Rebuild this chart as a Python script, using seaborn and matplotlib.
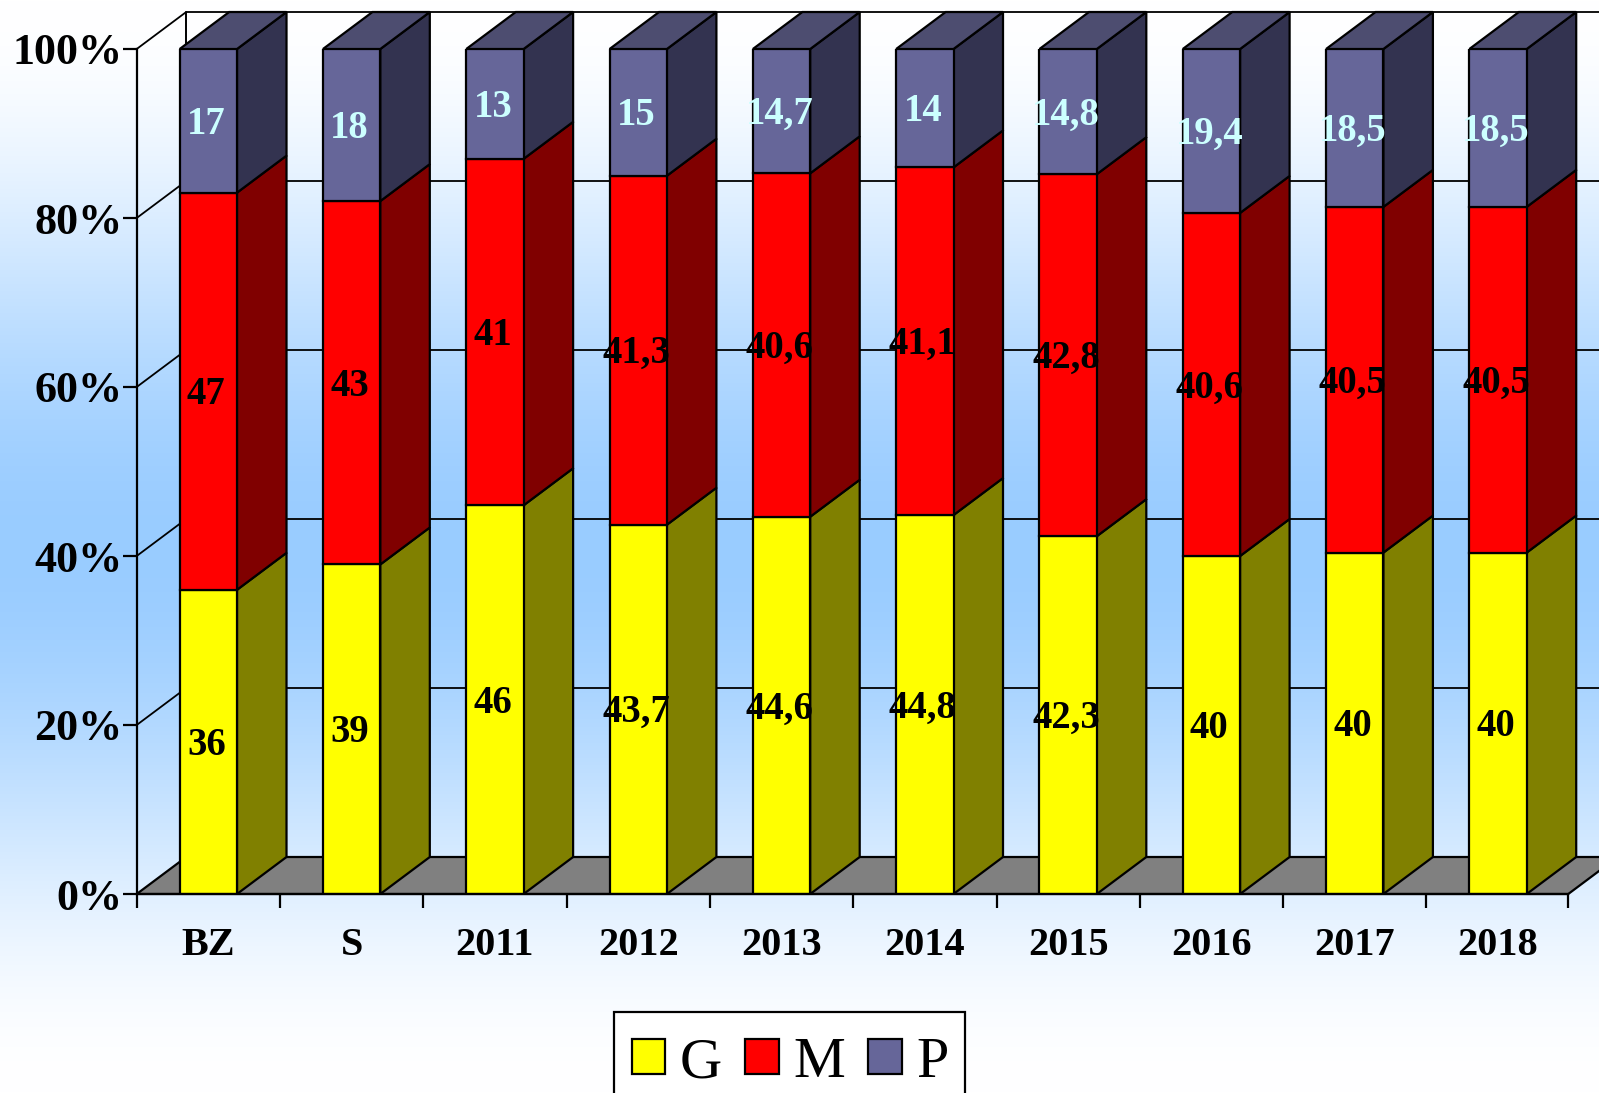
import numpy as np
import pandas as pd
import matplotlib
matplotlib.use("Agg")
import matplotlib.pyplot as plt
from matplotlib.patches import Patch, Polygon, Rectangle
import seaborn as sns

categories = ["BZ", "S", "2011", "2012", "2013", "2014", "2015", "2016", "2017", "2018"]
g_values = [36, 39, 46, 43.7, 44.6, 44.8, 42.3, 40, 40, 40]
m_values = [47, 43, 41, 41.3, 40.6, 41.1, 42.8, 40.6, 40.5, 40.5]
p_values = [17, 18, 13, 15, 14.7, 14, 14.8, 19.4, 18.5, 18.5]
series_names = ["G", "M", "P"]
y_ticks = [0, 20, 40, 60, 80, 100]

W, H = 1599, 1093
sns.set_theme(style="white")
plt.rcParams["font.family"] = ["Liberation Serif", "DejaVu Serif"]

FRONT = {"G": "#FFFF00", "M": "#FF0000", "P": "#666699"}
SIDE = {"G": "#808000", "M": "#800000", "P": "#333350"}
TOP = "#4D4D70"
TXT = {"G": "black", "M": "black", "P": "#CCFFFF"}
LW = 1.6

fig = plt.figure(figsize=(W / 100, H / 100), dpi=100)

# background gradient
bg = fig.add_axes([0, 0, 1, 1], zorder=-1)
t = 1 - np.abs(np.linspace(0, 1, 1093) - 0.5) * 2
t = 3 * t**2 - 2 * t**3
grad = np.zeros((1093, 1, 3))
grad[..., 0] = (255 - 102 * t)[:, None] / 255
grad[..., 1] = (255 - 51 * t)[:, None] / 255
grad[..., 2] = 1
bg.imshow(grad, aspect="auto")
bg.axis("off")

# front plane
left, right, y0, y100 = 136.7, 1569.7, 894, 49
ax = fig.add_axes([left / W, 1 - y0 / H, (right - left) / W, (y0 - y100) / H], zorder=1)
ax.patch.set_alpha(0)

df = pd.DataFrame({"cat": categories, "G": g_values, "M": m_values, "P": p_values})
tot = df[series_names].sum(axis=1)
pct = df[series_names].div(tot, axis=0) * 100

bottom = np.zeros(len(df))
for name in series_names:
    sns.barplot(x=df["cat"], y=pct[name], order=categories, color=FRONT[name], saturation=1,
                width=0.4, bottom=bottom, edgecolor="black", linewidth=LW, zorder=5,
                errorbar=None, ax=ax)
    bottom = bottom + pct[name].to_numpy()

ax.set_xlim(-0.5, 9.5)
ax.set_ylim(0, 100)
cat_px = (right - left) / 10
dx = 49.5 / cat_px
dy = 37 / (y0 - y100) * 100
xl, xr = -0.5, 9.49

# walls and floor
ax.add_patch(Polygon([(xl, 0), (xl + dx, dy), (xr + dx, dy), (xr, 0)], closed=True,
                     facecolor="#808080", edgecolor="black", lw=LW, clip_on=False, zorder=1))
ax.plot([xl + dx, xl + dx], [dy, 100 + dy], color="black", lw=1.4, clip_on=False, zorder=1)
for v in y_ticks[1:]:
    ax.plot([xl, xl + dx, xr + dx], [v, v + dy, v + dy], color="black", lw=1.3,
            clip_on=False, zorder=1, solid_joinstyle="miter")

# 3D side and top faces derived from the bars
for i, name in enumerate(series_names):
    for patch in ax.containers[i].patches:
        x0, w = patch.get_x(), patch.get_width()
        b, h = patch.get_y(), patch.get_height()
        x1 = x0 + w
        ax.add_patch(Polygon([(x1, b), (x1 + dx, b + dy), (x1 + dx, b + h + dy), (x1, b + h)],
                             closed=True, facecolor=SIDE[name], edgecolor="black", lw=LW,
                             clip_on=False, zorder=4))
        if name == "P":
            ax.add_patch(Polygon([(x0, b + h), (x0 + dx, b + h + dy), (x1 + dx, b + h + dy), (x1, b + h)],
                                 closed=True, facecolor=TOP, edgecolor="black", lw=LW,
                                 clip_on=False, zorder=4))

# data labels
raw = {"G": g_values, "M": m_values, "P": p_values}
for i, name in enumerate(series_names):
    labels = [f"{v:g}".replace(".", ",") for v in raw[name]]
    anns = ax.bar_label(ax.containers[i], labels=labels, label_type="center", fontsize=27.8,
                        fontweight="bold", color=TXT[name], zorder=7, clip_on=False)
    for ann in anns:
        ann.xyann = (-1.5, -2.5)

# axes
for s in ("top", "right"):
    ax.spines[s].set_visible(False)
for s in ("left", "bottom"):
    ax.spines[s].set_visible(True)
    ax.spines[s].set_color("black")
    ax.spines[s].set_linewidth(LW)
    ax.spines[s].set_zorder(6)
ax.spines["bottom"].set_bounds(xl, xr)
ax.set_xlabel("")
ax.set_ylabel("")
ax.set_yticks(y_ticks)
ax.set_yticklabels([f"{v}%" for v in y_ticks], fontsize=31.8, fontweight="bold", color="black")
ax.set_xticks(list(np.arange(-0.5, 9, 1)) + [xr])
ax.set_xticklabels([])
ax.set_xticks(np.arange(10), labels=categories, minor=True)
ax.tick_params(axis="y", left=True, length=10, width=LW, color="black", pad=0)
ax.tick_params(axis="x", which="major", bottom=True, length=10, width=LW, color="black")
ax.tick_params(axis="x", which="minor", bottom=False, length=0, pad=23.6, labelsize=29)
for lab in ax.get_xticklabels(minor=True):
    lab.set_fontweight("bold")
    lab.set_color("black")

# legend: the box runs past the bottom of the picture
fig.add_artist(Rectangle((614 / W, 1 - 1101 / H), 351 / W, 89 / H, transform=fig.transFigure,
                         facecolor="white", edgecolor="black", lw=LW, zorder=9))
handles = [Patch(facecolor=FRONT[n], edgecolor="black", lw=LW, label=n) for n in series_names]
leg = fig.legend(handles=handles, loc="upper left", bbox_to_anchor=(632 / W, 1 - 1037 / H),
                 ncol=3, fontsize=42, frameon=False, borderaxespad=0, borderpad=0,
                 handlelength=0.57, handleheight=0.55, handletextpad=0.25, columnspacing=0.4,
                 labelcolor="black")
leg.set_zorder(10)

fig.savefig("out.png", dpi=100)
